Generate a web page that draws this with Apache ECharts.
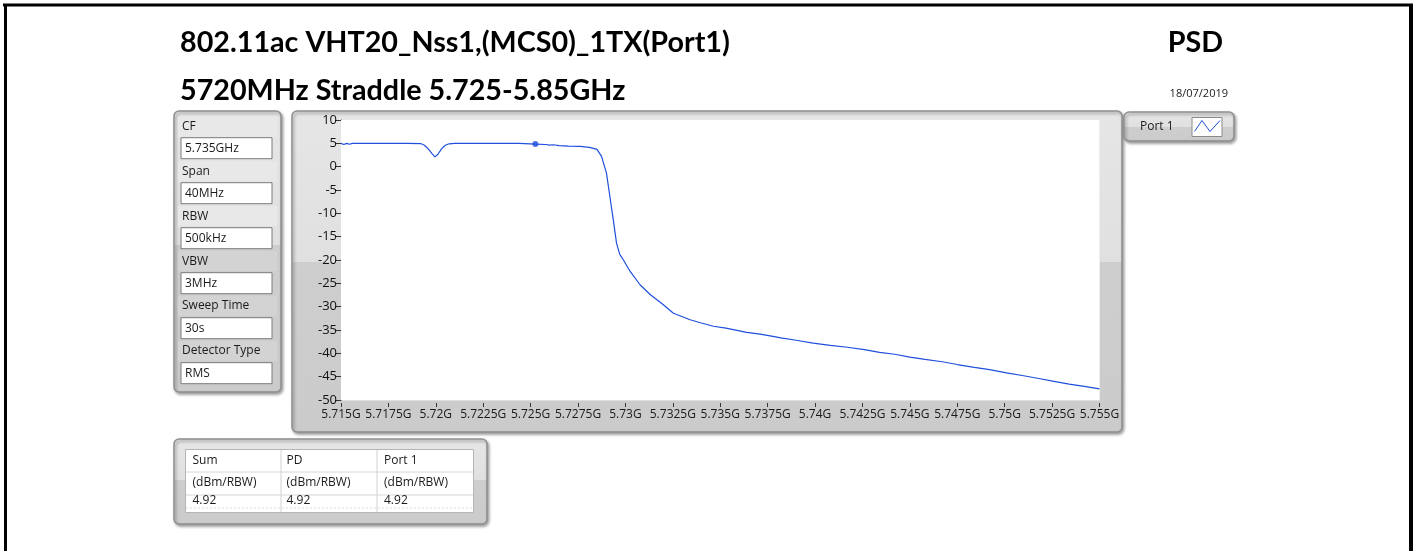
<!DOCTYPE html>
<html><head><meta charset="utf-8">
<script src="https://cdn.jsdelivr.net/npm/echarts@6/dist/echarts.min.js"></script>
<style>html,body{margin:0;padding:0;background:#fff}#c{width:1415px;height:551px}</style>
</head><body><div id="c"></div>
<script>
// ---- data ----
const titleLine1 = '802.11ac VHT20_Nss1,(MCS0)_1TX(Port1)';
const titleLine2 = '5720MHz Straddle 5.725-5.85GHz';
const titleRight = 'PSD';
const dateText = '18/07/2019';
const paramLabels = ['CF', 'Span', 'RBW', 'VBW', 'Sweep Time', 'Detector Type'];
const paramValues = ['5.735GHz', '40MHz', '500kHz', '3MHz', '30s', 'RMS'];
const tableHeaders = ['Sum', 'PD', 'Port 1'];
const tableUnits = ['(dBm/RBW)', '(dBm/RBW)', '(dBm/RBW)'];
const tableValues = ['4.92', '4.92', '4.92'];
const seriesName = 'Port 1';
const xTickLabels = ['5.715G','5.7175G','5.72G','5.7225G','5.725G','5.7275G','5.73G','5.7325G','5.735G','5.7375G','5.74G','5.7425G','5.745G','5.7475G','5.75G','5.7525G','5.755G'];
const yTicks = [10,5,0,-5,-10,-15,-20,-25,-30,-35,-40,-45,-50];
// frequency (MHz), level (dBm)
const freqMHz = [5715.0,5715.15,5715.3,5715.45,5715.6,5716.5,5717.5,5718.5,5719.2,5719.4,5719.6,5719.8,5719.95,5720.1,5720.3,5720.5,5720.7,5721.0,5722.0,5723.0,5724.2,5724.3,5724.4,5725.25,5725.8,5726.0,5726.2,5726.5,5727.0,5727.6,5728.1,5728.5,5728.74,5729.0,5729.18,5729.36,5729.53,5729.7,5729.88,5730.24,5730.77,5731.3,5732.0,5732.53,5733.41,5734.0,5734.64,5735.3,5736.4,5737.1,5737.7,5738.2,5739.0,5739.9,5740.8,5741.7,5742.6,5743.4,5744.2,5745.0,5745.8,5746.7,5747.5,5748.4,5749.2,5750.1,5751.0,5751.8,5752.6,5753.4,5754.2,5755.0];
const levelDbm = [5.0,4.75,5.0,4.8,5.0,5.0,5.0,5.0,4.95,4.6,3.8,2.8,2.1,2.6,3.8,4.6,4.9,5.0,5.0,5.0,5.0,4.75,5.0,4.85,4.75,4.6,4.7,4.5,4.4,4.35,4.15,3.7,2.2,-1.4,-6.4,-11.4,-16.4,-18.8,-19.9,-22.4,-25.3,-27.4,-29.6,-31.4,-32.8,-33.5,-34.2,-34.6,-35.5,-35.9,-36.3,-36.7,-37.2,-37.8,-38.3,-38.7,-39.2,-39.8,-40.2,-40.8,-41.3,-41.8,-42.4,-43.0,-43.5,-44.2,-44.8,-45.4,-46.0,-46.6,-47.1,-47.6];
const markerFreq = [5725.25];
const markerLevel = [4.85];

// ---- helpers ----
const BLUE = '#1f4fdc';
const SMALL_FONT = '"Open Sans", "Noto Sans", sans-serif';
const TITLE_FONT = 'Lato, "Open Sans", sans-serif';
function fitSize(text, family, weight, target) {
  const ctx = document.createElement('canvas').getContext('2d');
  ctx.font = weight + ' 100px ' + family;
  return 100 * target / ctx.measureText(text).width;
}
const titleSize = fitSize(titleLine1, TITLE_FONT, 'bold', 550);

function panel(x, y, w, h, step) {
  return {
    type: 'rect', z: -10,
    shape: { x: x, y: y, width: w, height: h, r: 5 },
    style: {
      fill: { type: 'linear', x: 0, y: 0, x2: 0, y2: 1, colorStops: [
        { offset: 0, color: '#e6e6e6' }, { offset: step, color: '#e0e0e0' },
        { offset: step + 0.001, color: '#cecece' }, { offset: 1, color: '#cbcbcb' }] },
      stroke: '#8f8f8f', lineWidth: 1.5,
      shadowBlur: 3, shadowOffsetX: 1.5, shadowOffsetY: 2, shadowColor: 'rgba(0,0,0,0.35)'
    }
  };
}
function txt(x, y, s, opt) {
  return {
    type: 'text', z: 10,
    style: Object.assign({ x: x, y: y, text: s, fill: '#1a1a1a', font: '12px ' + SMALL_FONT,
      verticalAlign: 'middle', align: 'left' }, opt || {})
  };
}

const g = [];
// page frame
g.push({ type: 'line', z: 20, shape: { x1: 3, y1: 5, x2: 1413, y2: 5 }, style: { stroke: '#000', lineWidth: 3 } });
g.push({ type: 'line', z: 20, shape: { x1: 5.5, y1: 4, x2: 5.5, y2: 551 }, style: { stroke: '#000', lineWidth: 3 } });
g.push({ type: 'line', z: 20, shape: { x1: 1411, y1: 4, x2: 1411, y2: 551 }, style: { stroke: '#000', lineWidth: 4 } });
// titles
const TF = 'bold ' + titleSize + 'px ' + TITLE_FONT;
g.push(txt(180, 43, titleLine1, { fill: '#000', font: TF }));
g.push(txt(180, 90.5, titleLine2, { fill: '#000', font: TF }));
g.push(txt(1223, 43, titleRight, { fill: '#000', font: TF, align: 'right' }));
g.push(txt(1228, 94, dateText, { font: '11px ' + SMALL_FONT, align: 'right' }));

// left parameter panel
g.push(panel(174, 111, 107, 281, 0.477));
paramLabels.forEach(function (lab, i) {
  const ly = 126.7 + i * 44.8;
  g.push({ type: 'rect', z: -5, shape: { x: 178, y: ly - 10, width: 99, height: 20 }, style: { fill: i < 3 ? '#e8e8e8' : '#d3d3d3' } });
  g.push(txt(182, ly, lab));
  const by = 137.7 + i * 45;
  g.push({ type: 'rect', z: 5, shape: { x: 181, y: by, width: 91, height: 21 }, style: { fill: '#fff', stroke: '#7a7a7a', lineWidth: 1 } });
  g.push(txt(185, by + 10.8, paramValues[i]));
});

// chart panel
g.push(panel(292, 111, 830, 321, 0.47));

// legend
g.push(panel(1124, 112, 110, 29, 0.5));
g.push(txt(1140, 126.7, seriesName));
g.push({ type: 'rect', z: 5, shape: { x: 1192, y: 117.5, width: 30, height: 19 }, style: { fill: '#fff', stroke: '#8a8a8a', lineWidth: 1 } });
g.push({ type: 'polyline', z: 6, shape: { points: [[1194.5, 131.5], [1202, 120.5], [1210, 131.5], [1220, 120.5]] }, style: { stroke: BLUE, lineWidth: 1, fill: null } });

// bottom table panel
g.push(panel(174, 439, 313, 85, 0.48));
g.push({ type: 'rect', z: 5, shape: { x: 185.5, y: 449.5, width: 288, height: 63 }, style: { fill: '#fff', stroke: '#b5b5b5', lineWidth: 1 } });
[281, 377].forEach(function (cx) {
  g.push({ type: 'line', z: 6, shape: { x1: cx, y1: 450, x2: cx, y2: 512 }, style: { stroke: '#d0d0d0', lineWidth: 1 } });
});
[472, 495].forEach(function (ry) {
  g.push({ type: 'line', z: 6, shape: { x1: 186, y1: ry, x2: 473, y2: ry }, style: { stroke: '#d6d6d6', lineWidth: 1 } });
});
g.push({ type: 'line', z: 6, shape: { x1: 186, y1: 508, x2: 473, y2: 508 }, style: { stroke: '#dcdcdc', lineWidth: 1, lineDash: [2, 2] } });
const colX = [192.5, 286.5, 384];
[tableHeaders, tableUnits, tableValues].forEach(function (row, r) {
  const ry = [460.5, 483, 500.5][r];
  row.forEach(function (s, c) { g.push(txt(colX[c], ry, s)); });
});

const chart = echarts.init(document.getElementById('c'), null, { renderer: 'canvas' });
chart.setOption({
  animation: false,
  backgroundColor: '#fff',
  graphic: { elements: g },
  grid: { left: 341, top: 120, width: 758.5, height: 280, show: true, backgroundColor: '#fff', borderWidth: 0, z: 1 },
  xAxis: {
    type: 'value', min: 5715, max: 5755, interval: 2.5, offset: 3,
    axisLine: { show: false, onZero: false },
    axisTick: { show: true, length: 4, lineStyle: { color: '#333' } },
    axisLabel: { margin: 6, color: '#1a1a1a', fontSize: 12, fontFamily: SMALL_FONT,
      formatter: function (v) { return xTickLabels[Math.round((v - 5715) / 2.5)]; } },
    splitLine: { show: true, lineStyle: { color: '#dedede', width: 1 } }
  },
  yAxis: {
    type: 'value', min: -50, max: 10, interval: 5,
    axisLine: { show: true, onZero: false, lineStyle: { color: '#444', width: 1 } },
    axisTick: { show: true, length: 6, lineStyle: { color: '#333' } },
    axisLabel: { margin: 4, color: '#111', fontSize: 13, fontFamily: SMALL_FONT,
      formatter: function (v) { return yTicks.indexOf(v) >= 0 ? String(v) : ''; } },
    splitLine: { show: true, lineStyle: { color: '#dedede', width: 1 } }
  },
  series: [
    { name: seriesName, type: 'line', data: freqMHz.map(function (f, i) { return [f, levelDbm[i]]; }),
      showSymbol: false, symbol: 'none', lineStyle: { color: BLUE, width: 1.2 }, z: 3 },
    { name: 'marker', type: 'scatter', data: markerFreq.map(function (f, i) { return [f, markerLevel[i]]; }),
      symbol: 'circle', symbolSize: 6, itemStyle: { color: BLUE }, z: 4 }
  ]
});
</script></body></html>
